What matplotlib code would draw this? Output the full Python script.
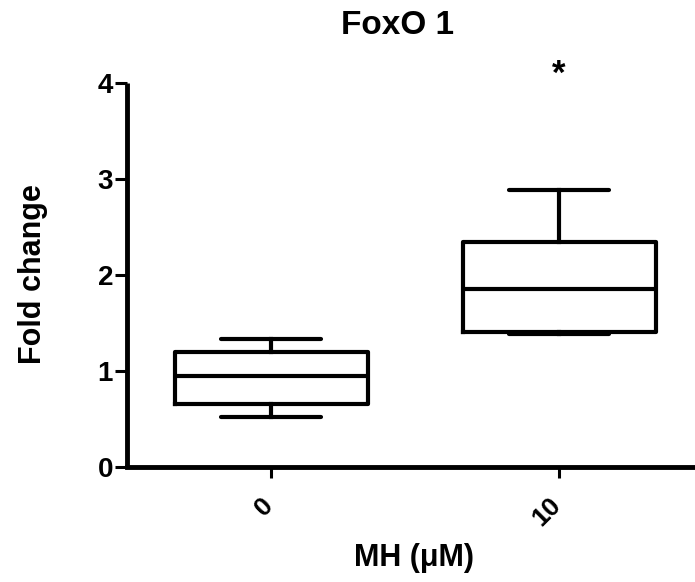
# foxo1_box.py

import numpy as np
import matplotlib
matplotlib.use("Agg")
import matplotlib.pyplot as plt
from matplotlib.transforms import ScaledTranslation, blended_transform_factory

plt.rcParams['font.family'] = ['Liberation Sans', 'DejaVu Sans']
plt.rcParams['font.weight'] = 'bold'

# data
groups = ['0', '10']
whislo = [0.52, 1.385]
q1 = [0.66, 1.41]
med = [0.95, 1.85]
q3 = [1.20, 2.34]
whishi = [1.33, 2.885]
star_group = 2
star_y = 4.09

W, H = 695, 582
fig = plt.figure(figsize=(W / 100, H / 100), dpi=100)
ax = fig.add_axes([127 / W, 1 - 467 / H, (W - 127) / W, (467 - 83) / H])

stats = []
for i in range(len(groups)):
    stats.append(dict(med=med[i], q1=q1[i], q3=q3[i],
                      whislo=whislo[i], whishi=whishi[i], fliers=[]))

pos = np.arange(1, len(groups) + 1)
lw = 3.0
ax.bxp(stats, positions=pos, widths=0.67, showfliers=False,
       boxprops=dict(color='black', linewidth=lw),
       medianprops=dict(color='black', linewidth=lw),
       whiskerprops=dict(color='black', linewidth=lw),
       capprops=dict(color='black', linewidth=lw, solid_capstyle='round'),
       capwidths=0.35)

ax.set_xlim(0.5, 2.472)
ax.set_ylim(0, 4)
ax.set_yticks([0, 1, 2, 3, 4])
ax.set_xticks(pos)
ax.set_xticklabels([])
ax.tick_params(axis='x', length=8, width=2.2)
ax.tick_params(axis='y', length=8.5, width=2.2, pad=1.5, labelsize=20)
for lab in ax.get_yticklabels():
    lab.set_fontweight('bold')

# rotated category labels, placed under the ticks
trans = blended_transform_factory(ax.transData, ax.transAxes) + \
    ScaledTranslation(7 / 100, -26 / 100, fig.dpi_scale_trans)
for p, g in zip(pos, groups):
    ax.text(p, 0, g, transform=trans, rotation=45, ha='right', va='top',
            fontsize=19, fontweight='bold')

for s in ['top', 'right']:
    ax.spines[s].set_visible(False)
for s in ['left', 'bottom']:
    ax.spines[s].set_linewidth(3.5)
ax.spines['left'].set_capstyle('butt')

ax.text(star_group, star_y, '*', ha='center', va='center',
        fontsize=25, fontweight='bold', clip_on=False)

fig.text(397 / W, 1 - 25 / H, 'FoxO 1', ha='center', va='center',
         fontsize=24, fontweight='bold')
fig.text(33 / W, 1 - 274 / H, 'Fold change', ha='center', va='center',
         rotation=90, fontsize=22, fontweight='bold')
fig.text(414 / W, 1 - 558 / H, 'MH (\u03bcM)', ha='center', va='center',
         fontsize=22, fontweight='bold')

fig.savefig('out.png', dpi=100)
